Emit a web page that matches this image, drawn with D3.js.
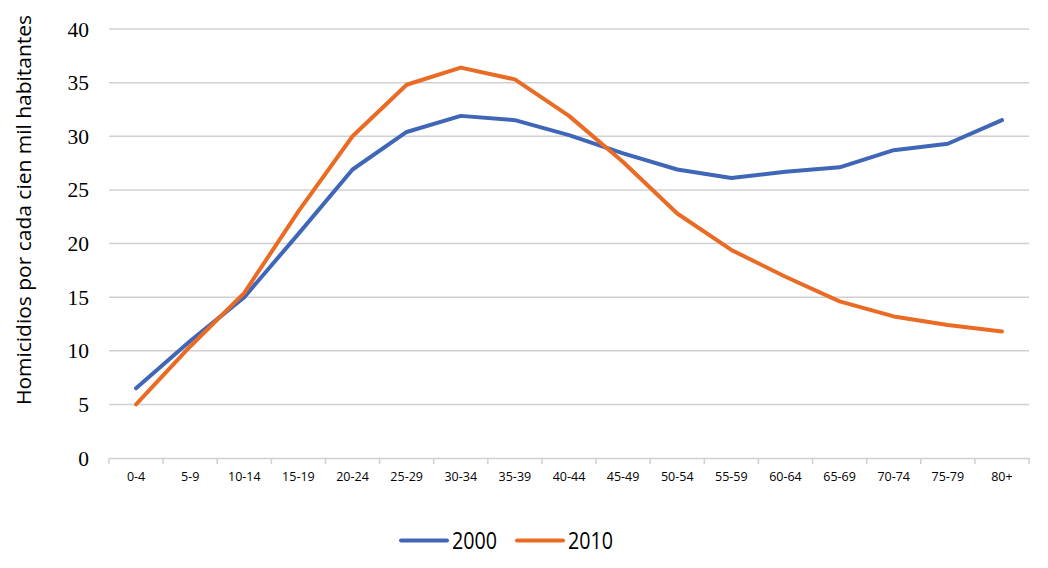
<!DOCTYPE html>
<html><head><meta charset="utf-8">
<script src="https://cdn.jsdelivr.net/npm/d3@7"></script>
<style>body{margin:0;background:#fff}svg{display:block}</style>
</head><body>
<script>
const categories = ["0-4","5-9","10-14","15-19","20-24","25-29","30-34","35-39","40-44","45-49","50-54","55-59","60-64","65-69","70-74","75-79","80+"];
const values2000 = [6.5,10.9,15.0,20.9,26.9,30.4,31.9,31.5,30.1,28.4,26.9,26.1,26.7,27.1,28.7,29.3,31.5];
const values2010 = [5.0,10.4,15.4,23.0,30.0,34.8,36.4,35.3,31.9,27.6,22.8,19.4,16.9,14.6,13.2,12.4,11.8];
const yTicks = [0,5,10,15,20,25,30,35,40];
const seriesNames = ["2000","2010"];
const colors = ["#4066B8","#E96B24"];

const W = 1048, H = 568;
const m = {left:109, right:19, top:29, bottom:110};
const svg = d3.select("body").append("svg").attr("width",W).attr("height",H);

const x = d3.scaleBand().domain(categories).range([m.left, W-m.right]);
const y = d3.scaleLinear().domain([0,40]).range([H-m.bottom, m.top]);

// gridlines
svg.append("g").selectAll("line").data(yTicks.filter(d=>d>0)).join("line")
  .attr("x1", m.left).attr("x2", W-m.right)
  .attr("y1", d=>y(d)).attr("y2", d=>y(d))
  .attr("stroke","#d0d0d0").attr("stroke-width",1.5);

// y labels
svg.append("g").selectAll("text").data(yTicks).join("text")
  .attr("x", 89).attr("y", d=>y(d)+7.5)
  .attr("text-anchor","end")
  .attr("font-family","'Liberation Serif','DejaVu Serif',serif")
  .attr("font-size",21.5).attr("fill","#000")
  .text(d=>d);

// x axis
const xAxis = d3.axisBottom(x).tickSize(0).tickPadding(14);
const gx = svg.append("g").attr("transform",`translate(0,${y(0)})`).call(xAxis);
gx.select(".domain").attr("stroke","#d0d0d0").attr("stroke-width",1.5);
gx.selectAll("text").attr("font-family","'Open Sans','DejaVu Sans',sans-serif").attr("font-size",12.5).attr("fill","#000");
// tick marks at band edges
const edges = categories.map(c=>x(c)).concat([x(categories[categories.length-1])+x.bandwidth()]);
svg.append("g").selectAll("line").data(edges).join("line")
  .attr("x1",d=>d).attr("x2",d=>d)
  .attr("y1",y(0)).attr("y2",y(0)+6)
  .attr("stroke","#d0d0d0").attr("stroke-width",1.5);

// y title
svg.append("text")
  .attr("transform",`translate(31,210) rotate(-90)`)
  .attr("text-anchor","middle")
  .attr("font-family","'Open Sans','DejaVu Sans',sans-serif")
  .attr("font-size",20.5).attr("fill","#000")
  .attr("textLength",390).attr("lengthAdjust","spacingAndGlyphs")
  .text("Homicidios por cada cien mil habitantes");

// lines
const line = d3.line().x((d,i)=>x(categories[i])+x.bandwidth()/2).y(d=>y(d));
[values2000, values2010].forEach((vals,i)=>{
  svg.append("path").datum(vals)
    .attr("d",line).attr("fill","none")
    .attr("stroke",colors[i]).attr("stroke-width",4)
    .attr("stroke-linejoin","round").attr("stroke-linecap","round");
});

// legend
const legendX = [401, 517];
seriesNames.forEach((n,i)=>{
  const g = svg.append("g").attr("transform",`translate(${legendX[i]},540.5)`);
  g.append("line").attr("x1",0).attr("x2",46).attr("y1",0).attr("y2",0)
    .attr("stroke",colors[i]).attr("stroke-width",4).attr("stroke-linecap","round");
  g.append("text").attr("x",51).attr("y",8)
    .attr("font-family","'Open Sans','DejaVu Sans',sans-serif")
    .attr("font-size",23).attr("fill","#000")
    .attr("textLength",45).attr("lengthAdjust","spacingAndGlyphs")
    .text(n);
});
</script>
</body></html>
